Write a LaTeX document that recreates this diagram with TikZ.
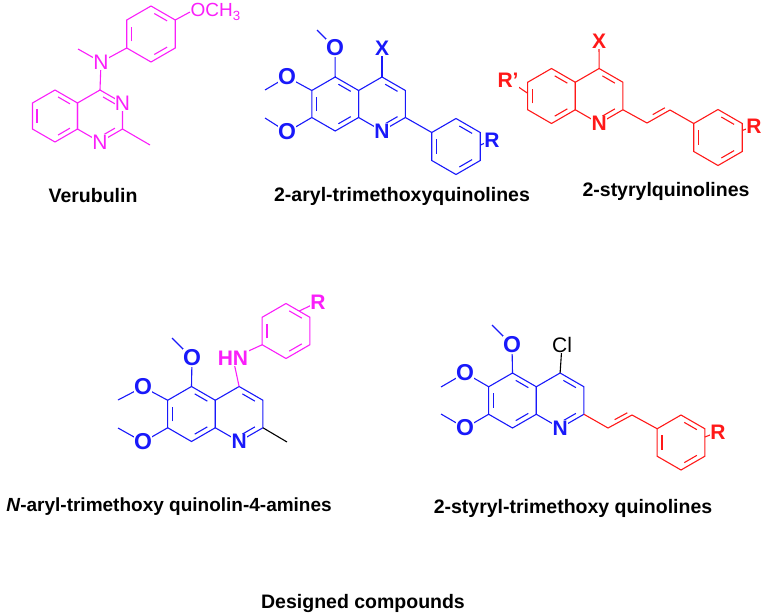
\documentclass[tikz,border=0pt]{standalone}
\usepackage{fontspec}
\setmainfont{Liberation Sans}
\usetikzlibrary{calc}
\definecolor{pinkv}{RGB}{250,30,250}
\definecolor{blueq}{RGB}{25,25,250}
\definecolor{reds}{RGB}{255,25,25}
% ring of six named points, 1 = top, clockwise
\newcommand{\hexring}[4]{\coordinate (#1c) at (#2,#3);
  \foreach \k in {1,...,6} {\coordinate (#1\k) at ($(#2,#3)+({-150+60*\k}:#4)$);}}
\newcommand{\dbond}[3]{\draw ($(#1)!.17!(#2)!.2!(#3)$) -- ($(#1)!.83!(#2)!.2!(#3)$);}
\newcommand{\ringbonds}[1]{\draw (#11)--(#12)--(#13)--(#14)--(#15)--(#16)--cycle;}

\begin{document}
\begin{tikzpicture}[x=1pt,y=-1pt,line width=1.1pt,
  atom/.style={fill=white,inner sep=0.4pt,font=\fontsize{21}{21}\selectfont\bfseries},
  atomlight/.style={fill=white,inner sep=0.4pt,font=\fontsize{21}{21}\selectfont},
  oxy/.style={fill=white,inner sep=0.4pt,font=\fontsize{23}{23}\selectfont\bfseries},
  caption/.style={font=\fontsize{19.5}{19.5}\selectfont\bfseries}]
\useasboundingbox (0,0) rectangle (762,613);

% Verubulin
\begin{scope}[pinkv]
\hexring{vb}{55}{116}{26}
\hexring{vp}{100}{116}{26}
\hexring{va}{151}{34}{28}
\ringbonds{vb} \ringbonds{vp} \ringbonds{va}
\dbond{vb5}{vb6}{vbc} \dbond{vb1}{vb2}{vbc} \dbond{vb3}{vb4}{vbc}
\dbond{vp1}{vp2}{vpc} \dbond{vp3}{vp4}{vpc}
\dbond{va1}{va2}{vac} \dbond{va3}{va4}{vac} \dbond{va5}{va6}{vac}
\coordinate (vn) at (101,62);
\coordinate (vme) at (150,145);
\draw (vp1) -- (vn) -- (78,49);
\draw (vn) -- (va5);
\draw (vp3) -- (vme);
\draw (va2) -- (190,12);
\node[atomlight] (vN) at (vn) {N};
\node[atomlight] (vN3) at (vp2) {N};
\node[atomlight] (vN1) at (vp4) {N};
\node[atomlight,anchor=west,inner sep=0pt,font=\fontsize{19}{19}\selectfont] (vome) at (190,12) {OCH\textsubscript{3}};
\end{scope}
\node[caption] (verub) at (93,196) {Verubulin};

% 2-aryl-trimethoxyquinolines
\begin{scope}[blueq]
\hexring{qb}{335.2}{104}{27}
\hexring{qp}{382}{104}{27}
\hexring{qa}{456}{146.5}{28}
\ringbonds{qb} \ringbonds{qp} \ringbonds{qa}
\dbond{qb1}{qb2}{qbc} \dbond{qb5}{qb6}{qbc} \dbond{qb3}{qb4}{qbc}
\dbond{qp1}{qp2}{qpc} \dbond{qp3}{qp4}{qpc}
\dbond{qa1}{qa2}{qac} \dbond{qa3}{qa4}{qac} \dbond{qa5}{qa6}{qac}
\coordinate (qo5) at (335,48);
\coordinate (qo6) at (287,77);
\coordinate (qo7) at (287,132);
\coordinate (qx) at (382,48);
\coordinate (qr) at (492,140);
\draw (qb1) -- (qo5) -- (317,30);
\draw (qb6) -- (qo6) -- (265,90);
\draw (qb5) -- (qo7) -- (265,118);
\draw (qp1) -- (qx);
\draw (qp3) -- (qa6);
\draw ($(qa2)!.45!(qa3)$) -- (qr);
\node[oxy] (qO5) at (qo5) {O};
\node[oxy] (qO6) at (qo6) {O};
\node[oxy] (qO7) at (qo7) {O};
\node[atom] (qX) at (qx) {X};
\node[atom] (qN) at (qp4) {N};
\node[atom] (qR) at (qr) {R};
\end{scope}
\node[caption] (arylq) at (402,196) {2-aryl-trimethoxyquinolines};

% 2-styrylquinolines
\begin{scope}[reds]
\hexring{sb}{551.5}{96}{27.5}
\hexring{sp}{599.1}{96}{27.5}
\hexring{sa}{718}{137.5}{28}
\ringbonds{sb} \ringbonds{sp} \ringbonds{sa}
\dbond{sb1}{sb2}{sbc} \dbond{sb3}{sb4}{sbc} \dbond{sb5}{sb6}{sbc}
\dbond{sp1}{sp2}{spc} \dbond{sp3}{sp4}{spc}
\dbond{sa1}{sa2}{sac} \dbond{sa3}{sa4}{sac} \dbond{sa5}{sa6}{sac}
\coordinate (sv1) at (647,123);
\coordinate (sv2) at (670,110);
\coordinate (svc) at (660,90);
\coordinate (sx) at (599,41);
\coordinate (srp) at (508,80);
\coordinate (sr) at (754,126);
\draw (sp3) -- (sv1) -- (sv2) -- (sa6);
\dbond{sv1}{sv2}{svc}
\draw (sp1) -- (sx);
\draw ($(sb5)!.6!(sb6)$) -- (srp);
\draw ($(sa2)!.25!(sa3)$) -- (sr);
\node[atom] (sX) at (sx) {X};
\node[atom] (sN) at (sp4) {N};
\node[atom] (sRp) at (srp) {R'};
\node[atom] (sR) at (sr) {R};
\end{scope}
\node[caption] (styq) at (666,191) {2-styrylquinolines};

% N-aryl-trimethoxy quinolin-4-amines
\begin{scope}[blueq]
\hexring{nb}{191.5}{414}{27.5}
\hexring{np}{239.1}{414}{27.5}
\ringbonds{nb} \ringbonds{np}
\dbond{nb1}{nb2}{nbc} \dbond{nb5}{nb6}{nbc} \dbond{nb3}{nb4}{nbc}
\dbond{np1}{np2}{npc} \dbond{np3}{np4}{npc}
\coordinate (no5) at (192,358);
\coordinate (no6) at (143,387);
\coordinate (no7) at (143,442);
\draw (nb1) -- (no5) -- (172,338);
\draw (nb6) -- (no6) -- (118,400);
\draw (nb5) -- (no7) -- (118,428);
\draw[black] (np3) -- (287,442);
\end{scope}
\begin{scope}[pinkv]
\hexring{na}{286}{331}{27.5}
\ringbonds{na}
\dbond{na1}{na2}{nac} \dbond{na3}{na4}{nac} \dbond{na5}{na6}{nac}
\coordinate (nhn) at (233,358);
\coordinate (nr) at (318,302);
\draw (np1) -- (nhn) -- (na5);
\draw ($(na1)!.55!(na2)$) -- (nr);
\node[atom] (nHN) at (nhn) {HN};
\node[atom] (nR) at (nr) {R};
\end{scope}
\begin{scope}[blueq]
\node[oxy] (nO5) at (no5) {O};
\node[oxy] (nO6) at (no6) {O};
\node[oxy] (nO7) at (no7) {O};
\node[atom] (nN) at (np4) {N};
\end{scope}
\node[caption,font=\fontsize{19}{19}\selectfont\bfseries] (amine) at (169,507) {\textit{N}-aryl-trimethoxy quinolin-4-amines};

% 2-styryl-trimethoxy quinolines
\begin{scope}[blueq]
\hexring{tb}{512.5}{400.5}{27.5}
\hexring{tp}{560.1}{400.5}{27.5}
\ringbonds{tb} \ringbonds{tp}
\dbond{tb1}{tb2}{tbc} \dbond{tb5}{tb6}{tbc} \dbond{tb3}{tb4}{tbc}
\dbond{tp1}{tp2}{tpc} \dbond{tp3}{tp4}{tpc}
\coordinate (to5) at (512,345);
\coordinate (to6) at (465,373);
\coordinate (to7) at (465,428);
\draw (tb1) -- (to5) -- (492,325);
\draw (tb6) -- (to6) -- (441,387);
\draw (tb5) -- (to7) -- (441,414);
\node[oxy] (tO5) at (to5) {O};
\node[oxy] (tO6) at (to6) {O};
\node[oxy] (tO7) at (to7) {O};
\end{scope}
\coordinate (tcl) at (562,345);
\draw (tp1) -- (tcl);
\node[atomlight] (tCl) at (tcl) {Cl};
\begin{scope}[reds]
\hexring{ta}{681}{442.5}{27.5}
\ringbonds{ta}
\dbond{ta1}{ta2}{tac} \dbond{ta3}{ta4}{tac} \dbond{ta5}{ta6}{tac}
\coordinate (tv1) at (608,428);
\coordinate (tv2) at (632,415);
\coordinate (tvc) at (625,395);
\coordinate (tr) at (718,432);
\draw (tp3) -- (tv1) -- (tv2) -- (ta6);
\dbond{tv1}{tv2}{tvc}
\draw ($(ta2)!.3!(ta3)$) -- (tr);
\node[atom] (tR) at (tr) {R};
\end{scope}
\node[atom,text=blueq] (tN) at (tp4) {N};
\node[caption] (stytq) at (573,508) {2-styryl-trimethoxy quinolines};

\node[caption] (design) at (363,603) {Designed compounds};
\end{tikzpicture}
\end{document}
